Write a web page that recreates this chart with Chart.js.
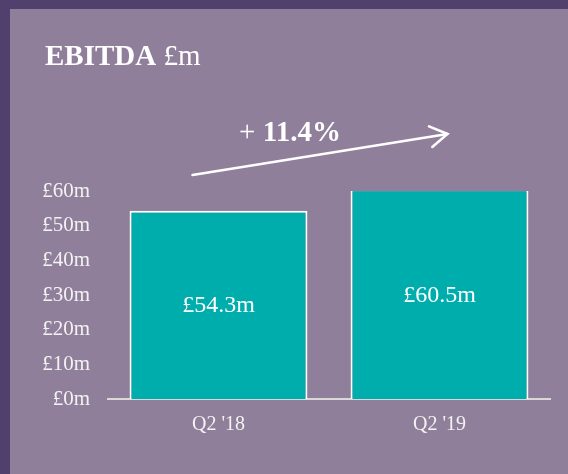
<!DOCTYPE html>
<html>
<head>
<meta charset="utf-8">
<script src="https://cdn.jsdelivr.net/npm/chart.js@4/dist/chart.umd.min.js"></script>
<style>
  html, body { margin: 0; padding: 0; background: #513f6e; }
  #wrap { position: absolute; left: 0; top: 0; width: 568px; height: 474px; }
</style>
</head>
<body>
<div id="wrap"><canvas id="c" width="568" height="474"></canvas></div>
<script>
const categories = ["Q2 '18", "Q2 '19"];
const ebitda = [54.3, 60.5];
const valueLabels = ["£54.3m", "£60.5m"];
const yTicks = [0, 10, 20, 30, 40, 50, 60];
const titleBold = "EBITDA";
const titleRest = " £m";
const growthPlus = "+ ";
const growthValue = "11.4%";

const SERIF = "'Liberation Serif', 'Times New Roman', serif";
const PANEL = '#8f7f9b';
const BORDER = '#513f6e';

const backgroundPlugin = {
  id: 'bg',
  beforeDraw(chart) {
    const ctx = chart.ctx;
    ctx.save();
    ctx.fillStyle = BORDER;
    ctx.fillRect(0, 0, chart.width, chart.height);
    ctx.fillStyle = PANEL;
    ctx.fillRect(10, 9, chart.width - 10, chart.height - 9);
    ctx.restore();
  }
};

const decorPlugin = {
  id: 'decor',
  afterDatasetsDraw(chart) {
    const ctx = chart.ctx;
    const area = chart.chartArea;
    const meta = chart.getDatasetMeta(0);
    ctx.save();
    ctx.fillStyle = '#ffffff';
    ctx.font = '24px ' + SERIF;
    ctx.textAlign = 'center';
    ctx.textBaseline = 'middle';
    meta.data.forEach((bar, i) => {
      const top = Math.max(bar.y, area.top);
      const mid = (top + bar.base) / 2;
      ctx.fillText(valueLabels[i], bar.x, mid + 1);
    });
    ctx.restore();
  },
  afterDraw(chart) {
    const ctx = chart.ctx;
    const area = chart.chartArea;
    const meta = chart.getDatasetMeta(0);
    ctx.save();
    ctx.fillStyle = '#ffffff';
    ctx.textBaseline = 'alphabetic';
    ctx.textAlign = 'left';
    ctx.font = 'bold 29px ' + SERIF;
    ctx.fillText(titleBold, 45, 65);
    const w = ctx.measureText(titleBold).width;
    ctx.font = '29px ' + SERIF;
    ctx.fillText(titleRest, 45 + w, 65);

    const b1 = meta.data[0], b2 = meta.data[1];
    const x0 = b1.x - 26, y0 = area.top - 16;
    const x1 = b2.x + 8, y1 = area.top - 57;
    ctx.strokeStyle = '#ffffff';
    ctx.lineWidth = 2.5;
    ctx.lineCap = 'round';
    ctx.beginPath();
    ctx.moveTo(x0, y0);
    ctx.lineTo(x1, y1);
    ctx.stroke();
    const ang = Math.atan2(y1 - y0, x1 - x0);
    const hl = 20, ha = 0.55;
    ctx.beginPath();
    ctx.moveTo(x1 - hl * Math.cos(ang - ha), y1 - hl * Math.sin(ang - ha));
    ctx.lineTo(x1, y1);
    ctx.lineTo(x1 - hl * Math.cos(ang + ha), y1 - hl * Math.sin(ang + ha));
    ctx.stroke();

    ctx.font = '29px ' + SERIF;
    const pw = ctx.measureText(growthPlus).width;
    ctx.font = 'bold 29px ' + SERIF;
    const vw = ctx.measureText(growthValue).width;
    const cx = (b1.x + b2.x) / 2 - 39;
    const sx = cx - (pw + vw) / 2;
    const by = area.top - 50;
    ctx.font = '29px ' + SERIF;
    ctx.fillText(growthPlus, sx, by);
    ctx.font = 'bold 29px ' + SERIF;
    ctx.fillText(growthValue, sx + pw, by);
    ctx.restore();
  }
};

new Chart(document.getElementById('c'), {
  type: 'bar',
  data: {
    labels: categories,
    datasets: [{
      data: ebitda,
      backgroundColor: '#00adad',
      borderColor: '#ffffff',
      borderWidth: 2,
      borderSkipped: 'bottom',
      categoryPercentage: 1,
      barPercentage: 0.805,
      clip: 0
    }]
  },
  options: {
    responsive: false,
    animation: false,
    events: [],
    layout: { padding: { top: 191, right: 18, bottom: 23, left: 0 } },
    plugins: { legend: { display: false }, title: { display: false }, tooltip: { enabled: false } },
    scales: {
      x: {
        z: 1,
        grid: { display: false, drawTicks: false },
        border: { display: true, color: '#d9d9d9', width: 2 },
        ticks: { color: '#f2f2f2', font: { family: SERIF, size: 20 }, padding: 14 }
      },
      y: {
        min: 0,
        max: 60,
        afterFit(scale) { scale.width = 108; },
        afterBuildTicks(scale) { scale.ticks = yTicks.map(v => ({ value: v })); },
        grid: { display: false, drawTicks: false },
        border: { display: false },
        ticks: {
          color: '#f2f2f2',
          font: { family: SERIF, size: 21 },
          padding: 18,
          callback: v => '£' + v + 'm'
        }
      }
    }
  },
  plugins: [backgroundPlugin, decorPlugin]
});
</script>
</body>
</html>
